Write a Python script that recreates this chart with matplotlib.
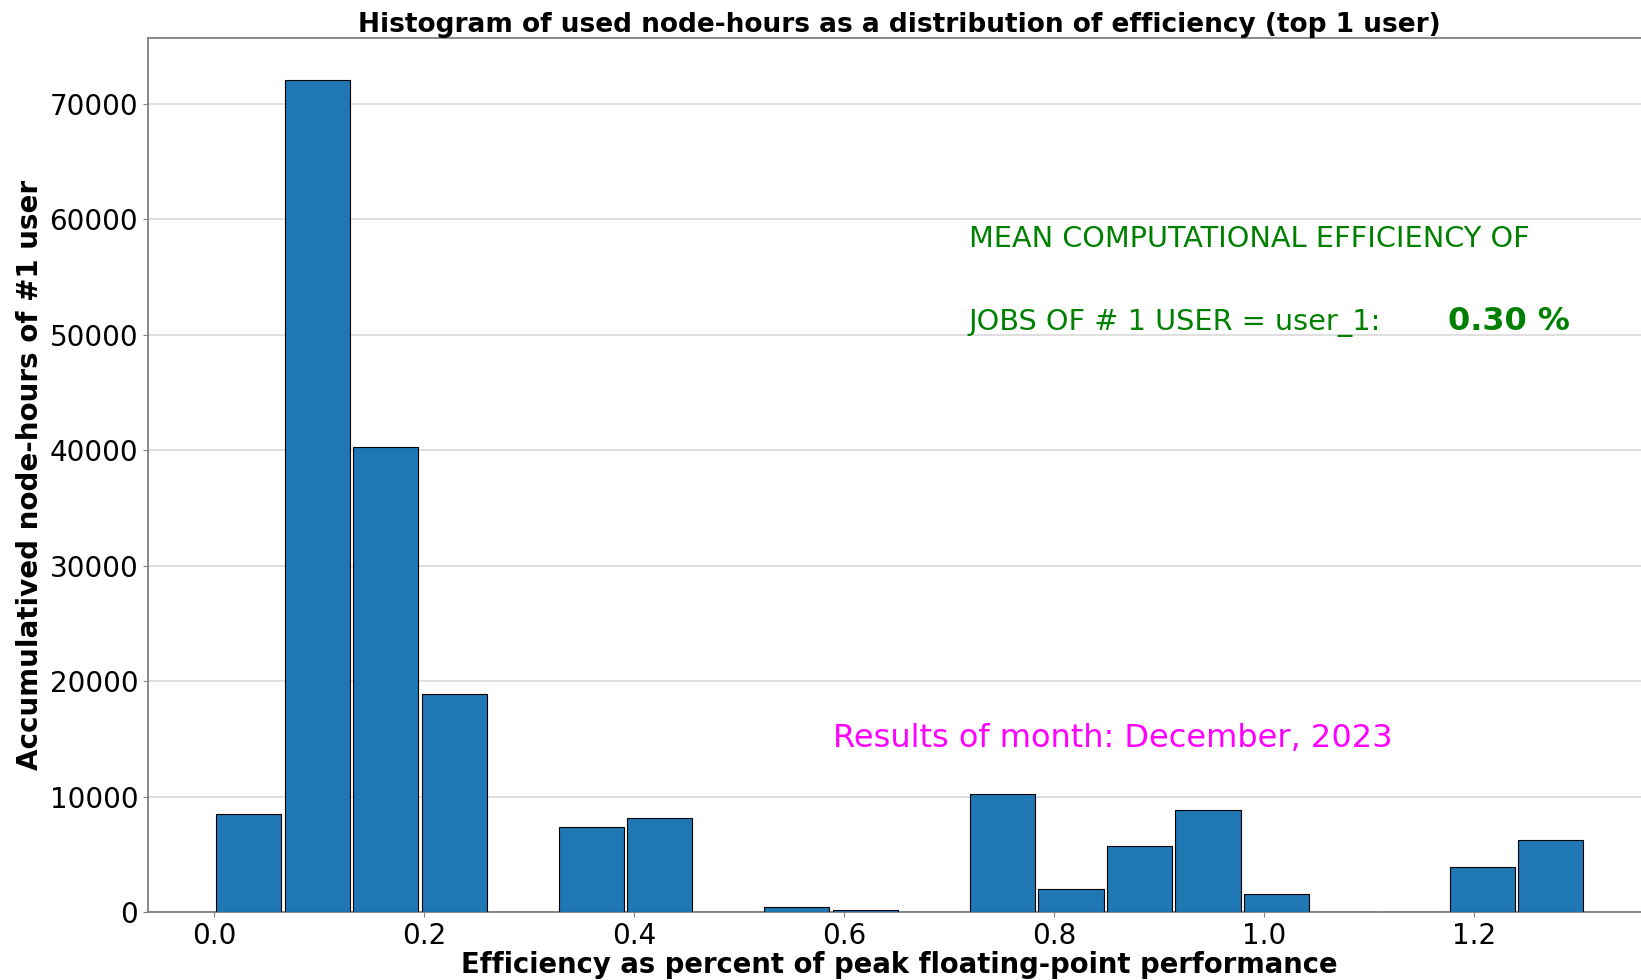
import matplotlib
matplotlib.use('Agg')
import matplotlib.pyplot as plt
import numpy as np

# bins: 20 equal bins between min and max efficiency
eff_min = 0.0
eff_max = 1.306
n_bins = 20
# node-hours accumulated in each bin
node_hours = [8500, 72100, 40300, 18900, 0, 7400, 8100, 0, 400, 130,
              0, 10200, 1950, 5700, 8800, 1550, 0, 0, 3900, 6200]

mean_eff = 0.30
user_name = 'user_1'
month_label = 'December, 2023'

edges = np.linspace(eff_min, eff_max, n_bins + 1)
centers = (edges[:-1] + edges[1:]) / 2

fig = plt.figure(figsize=(16.41, 9.8), dpi=100)
# right edge of the axes runs past the figure, as in the original export
ax = fig.add_axes([0.0901, 0.0694, 0.9163, 0.8916])

ax.hist(centers, bins=edges, weights=node_hours, rwidth=0.95,
        color='#1f77b4', edgecolor='black', linewidth=0.8, zorder=3)

ax.grid(axis='y', color='#d9d9d9', linewidth=1.2, zorder=0)
ax.set_axisbelow(True)
for s in ax.spines.values():
    s.set_color('#808080')
    s.set_linewidth(1.3)
ax.tick_params(colors='#808080', labelcolor='black', labelsize=20)

ax.set_title('Histogram of used node-hours as a distribution of efficiency (top 1 user)',
             fontsize=19, fontweight='bold', pad=4)
ax.set_xlabel('Efficiency as percent of peak floating-point performance',
              fontsize=19.8, fontweight='bold', labelpad=1)
ax.set_ylabel('Accumulatived node-hours of #1 user', fontsize=20, fontweight='bold')

ax.text(0.719, 57600, 'MEAN COMPUTATIONAL EFFICIENCY OF', color='green', fontsize=20.7)
ax.text(0.719, 50400, 'JOBS OF # 1 USER = ' + user_name + ':', color='green', fontsize=20.7)
ax.text(1.176, 50400, '%.2f %%' % mean_eff, color='green', fontsize=23, fontweight='bold')
ax.text(0.589, 14300, 'Results of month: ' + month_label, color='magenta', fontsize=23)

fig.savefig('out.png', dpi=100)
